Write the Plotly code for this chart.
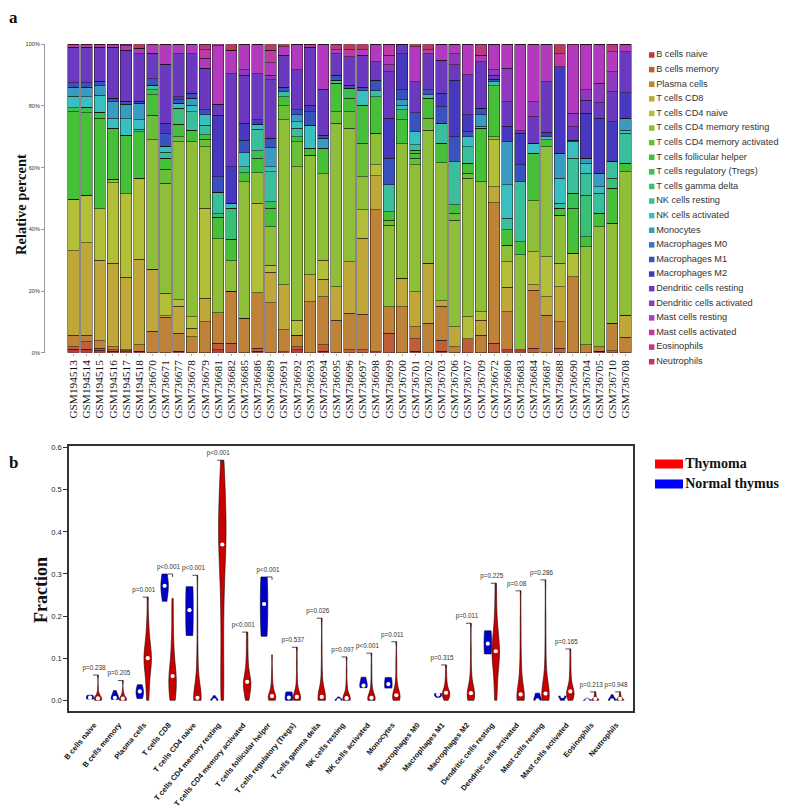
import colorsys
import numpy as np
import plotly.graph_objects as go

# ---------------- Panel a : CIBERSORT relative percent per sample ----------------
samples = ["GSM194513", "GSM194514", "GSM194515", "GSM194516", "GSM194517", "GSM194518",
           "GSM736670", "GSM736671", "GSM736677", "GSM736678", "GSM736679", "GSM736681",
           "GSM736682", "GSM736685", "GSM736686", "GSM736689", "GSM736691", "GSM736692",
           "GSM736693", "GSM736694", "GSM736695", "GSM736696", "GSM736697", "GSM736698",
           "GSM736699", "GSM736700", "GSM736701", "GSM736702", "GSM736703", "GSM736706",
           "GSM736707", "GSM736709", "GSM736672", "GSM736680", "GSM736683", "GSM736684",
           "GSM736687", "GSM736688", "GSM736690", "GSM736704", "GSM736705", "GSM736710",
           "GSM736708"]

cell_types = ["B cells naive", "B cells memory", "Plasma cells", "T cells CD8", "T cells CD4 naive",
              "T cells CD4 memory resting", "T cells CD4 memory activated", "T cells follicular helper",
              "T cells regulatory (Tregs)", "T cells gamma delta", "NK cells resting", "NK cells activated",
              "Monocytes", "Macrophages M0", "Macrophages M1", "Macrophages M2", "Dendritic cells resting",
              "Dendritic cells activated", "Mast cells resting", "Mast cells activated", "Eosinophils",
              "Neutrophils"]

# percent values per cell type, one entry per sample (same order as samples)
b_naive = [1.2, 1.2, 0.8, 0.5, 0.3, 0.3, 0, 0, 0.3, 0, 0, 1, 0, 0, 0.5, 0, 0.3, 0.9, 0, 0.5,
           0, 0, 0, 0.3, 0, 0, 0.5, 0, 0.5, 0, 0, 0, 0, 0.9, 0.9, 0, 0, 0, 0, 0, 0.5, 0, 0]
b_memory = [0.8, 2.3, 0.7, 0.5, 0.3, 0.2, 0, 0, 0.2, 0, 0, 2, 3, 0, 0.9, 0, 0, 1, 0, 2,
            0, 0.9, 0.9, 0, 6.3, 0, 4.1, 0, 3.6, 0, 4.6, 0, 3, 0, 0, 1.4, 0, 1.4, 0, 0, 0, 0.6, 0]
plasma = [3.7, 2.2, 2.3, 1, 0.4, 2, 7, 11.5, 5.8, 5.2, 10, 10, 17, 11.1, 18.1, 16.2, 7.1, 3.8, 16.5, 15.7,
          10.6, 11.9, 11.6, 46, 8.6, 14.9, 3.8, 9.5, 11, 1.9, 0, 5.7, 45.6, 12.4, 0, 18.9, 12.2, 8.6, 24.6, 2.5,
          1.4, 8.9, 5]
cd8 = [27.4, 30, 26.2, 27, 23.5, 27.8, 20, 0.5, 8.8, 2.7, 7.6, 0, 0, 0, 0, 9.9, 14.6, 0, 8.7, 5.6,
       10.8, 16.7, 24.6, 11, 0, 9.2, 11.4, 19.5, 1.8, 6.5, 0, 4.9, 5.2, 7.9, 0, 1.7, 6, 11.4, 0, 0, 0, 0, 7.2]
cd4_naive = [16.6, 15.4, 16.7, 26.1, 27, 26.2, 0, 7.3, 2, 3.8, 29.2, 0, 0, 0, 29, 2.3, 0, 4.9, 0, 6.2,
             0, 0, 9.2, 3.6, 0, 0, 0, 0, 0, 0, 7.1, 2.7, 15.2, 8.3, 0, 10.8, 12.9, 7.6, 7.6, 0, 0, 0, 0]
cd4_mem_rest = [0, 0, 0, 1.1, 0, 0, 42, 35.7, 51.3, 56.7, 20, 24, 9.8, 44.4, 9.9, 12.5, 53.5, 49.7, 38.9, 28,
                53, 43.3, 10.8, 10.2, 26.5, 43.6, 41.1, 43.2, 44.7, 34.6, 44.8, 42.2, 1, 5.4, 30.8, 16.4,
                35.7, 15.6, 0, 31.9, 39, 32.4, 46.5]
cd4_mem_act = [0, 0, 0, 0, 0, 0, 8, 4.5, 1.6, 0, 2.4, 0, 0, 0, 0, 0, 4.5, 8.1, 0, 0,
               3.8, 5.4, 10.8, 0, 1.6, 0, 2.1, 3.8, 0, 2.2, 1.7, 0, 0, 0, 0, 0, 0, 0, 0, 0, 0, 0, 0]
tfh = [28.5, 26.7, 29.3, 16.6, 19, 15.2, 6.6, 3.5, 4, 3.8, 1.4, 7, 7, 2.9, 4.6, 5.9, 3, 1.6, 2.2, 8.3,
       9.2, 4.3, 12.4, 11.9, 2.7, 7.8, 1.6, 6.5, 6.3, 2.7, 3.2, 17.3, 16.5, 4.9, 4.3, 15.4, 2.2, 2.2, 14.6, 3.2,
       4.3, 11.4, 2.7]
tregs = [1.3, 1.8, 2, 0, 0, 0, 1.6, 0, 0, 0, 0, 0, 0, 0, 2.5, 2.2, 0, 0, 0, 0,
         0, 3.2, 0, 0, 0, 3.2, 1.1, 0, 0, 0, 0, 0, 0, 0, 0, 0, 0, 0, 4.9, 0, 0, 0, 0]
gamma_delta = [0, 0, 0, 0, 0, 0, 0, 0, 5.2, 0, 0, 1, 10, 1.9, 0, 0, 0, 0, 0, 0,
               0, 0, 0, 0, 0, 0, 0, 0, 0, 0, 0, 0, 0, 0, 0, 0, 0, 0, 0, 13.5, 0, 3.2, 0]
nk_rest = [0, 0, 0, 0, 0, 0.8, 1.6, 2, 0, 6, 3.2, 7, 0, 0, 6.9, 9.7, 1.6, 2.8, 0, 0,
           1, 0, 0, 2, 8.7, 0, 1.7, 1.1, 6.5, 14, 5.4, 0, 1.4, 3.8, 19.5, 0, 0, 1.6, 11.3, 7.1, 6.5, 5.5, 9.7]
nk_act = [3.6, 3.4, 5.5, 3.2, 5.3, 3, 0, 2, 1.7, 2.1, 3.3, 0, 1.6, 4.5, 1.6, 1.6, 0, 2.1, 7.5, 0,
          0, 0, 4.7, 0, 0, 1.6, 4.3, 0, 0, 0, 3.2, 0.7, 0, 10.8, 0, 3.3, 1, 8.1, 5.4, 3.2, 2.1, 0, 1.1]
monocytes = [2.9, 3, 3, 5.3, 4.7, 5.4, 0, 0, 0, 2.2, 0, 0, 0, 0, 0, 6.2, 0, 2.2, 0, 3.2,
             0, 0, 0, 0, 0, 1.7, 0, 0, 0, 0, 0, 3.6, 0, 14, 0, 0, 0, 8.1, 0, 1.6, 4.4, 0, 3.8]
m0 = [0, 0, 0, 0, 0, 0, 0, 0, 0, 0, 0, 0, 0, 0, 0, 0, 0, 0, 0, 0,
      0, 0, 0, 0, 0, 0, 0, 0, 0, 0, 0, 0, 0, 0, 0, 0, 0, 0, 0, 0, 0, 0, 0]
m1 = [1.5, 1.6, 1.5, 1.2, 1, 0.7, 2, 4, 1.1, 1.6, 1.6, 5, 0, 4.1, 0, 3, 1.4, 1.6, 4.4, 1,
      1.6, 1.1, 1, 3.4, 8.6, 3.2, 6.1, 1.6, 5.4, 8.1, 1.7, 2.1, 0.7, 0, 5.4, 0, 0, 0, 0.5, 0, 0, 0, 0]
m2 = [0, 0, 0, 0, 0, 0, 0, 3.4, 1, 0, 0, 20, 11.9, 5.5, 1.5, 0, 0, 0, 2.1, 0,
      0, 0, 0, 0, 13, 11.8, 0, 0, 4.3, 18.4, 5.4, 0, 0, 5.1, 10.2, 0, 1.5, 28.2, 0, 14.6, 17.8, 12.9, 8.3]
dc_rest = [11.5, 11.4, 11, 16.5, 16.5, 15.4, 8.3, 19.1, 14, 12.9, 13.5, 3.5, 30.2, 15.6, 15, 19, 10.5, 13, 18.7, 15,
           7, 9.2, 10.5, 6, 15.1, 3, 10.1, 11.8, 10.8, 4.9, 13, 15.2, 1.4, 7.9, 0.9, 8.6, 16.4, 0, 4.4, 4.3,
           5.1, 9.7, 13.3]
dc_act = [0, 0, 0, 0, 0, 0, 0, 0, 0, 0, 0, 0, 0, 1.7, 0, 1.5, 0, 0, 0, 0,
          0, 0, 0, 0, 2.2, 0, 0, 0, 0, 3.7, 0, 0, 1.7, 10.8, 0, 4.9, 0, 0, 4.3, 3.3, 6.3, 6.5, 0]
mast_rest = [0, 0, 0, 0, 1.5, 1.7, 2.7, 6.5, 3, 3, 3.3, 19, 7.5, 8.3, 9.5, 4, 2.7, 8.3, 0, 14.5,
             1.2, 0, 1.7, 5.6, 3.2, 0, 11.3, 0, 5.1, 3, 9.9, 2.1, 8.3, 7.8, 28, 18.6, 12.1, 0, 22.2, 14.8,
             12.6, 6.5, 2.4]
mast_act = [1, 1, 1, 1, 0, 0, 0, 0, 0, 0, 2.7, 0, 0, 0, 0, 4, 0, 0, 1, 0,
            0, 2.2, 0, 0, 3.5, 0, 0, 1.2, 0, 0, 0, 0, 0, 0, 0, 0, 0, 4.2, 0, 0, 0, 0, 0]
eos = [0, 0, 0, 0, 0.5, 0, 0, 0, 0, 0, 1.8, 0, 0, 0, 0, 0, 0, 0, 0, 0,
       1.8, 0, 0, 0, 0, 0, 0, 0, 0, 0, 0, 3.5, 0, 0, 0, 0, 0, 0, 0, 0, 0, 2.4, 0]
neutro = [0, 0, 0, 0, 0, 1.3, 0.2, 0, 0, 0, 0, 0.5, 2, 0, 0, 2, 0.8, 0, 0, 0,
          0, 1.8, 1.8, 0, 0, 0, 0.8, 1.8, 0, 0, 0, 0, 0, 0, 0, 0, 0, 3, 0.2, 0, 0, 0, 0]

series = [b_naive, b_memory, plasma, cd8, cd4_naive, cd4_mem_rest, cd4_mem_act, tfh, tregs,
          gamma_delta, nk_rest, nk_act, monocytes, m0, m1, m2, dc_rest, dc_act, mast_rest,
          mast_act, eos, neutro]

n_normal = 6  # first six samples are normal thymus

# ---------------- Panel b : thymoma fractions per cell type (estimated from violins) ----------------
thy_b_naive = [0, 0, 0, 0, 0.001, 0.002, 0.003, 0.004, 0.005, 0.006, 0.008, 0.01, 0.012, 0.018, 0.03, 0.06]
thy_b_memory = [0, 0, 0, 0, 0.001, 0.002, 0.003, 0.004, 0.005, 0.007, 0.009, 0.012, 0.016, 0.024, 0.047]
thy_plasma = [0, 0.02, 0.04, 0.055, 0.07, 0.08, 0.088, 0.095, 0.1, 0.105, 0.112, 0.12, 0.13, 0.145, 0.165, 0.19, 0.245]
thy_cd8 = [0, 0, 0.005, 0.015, 0.025, 0.035, 0.045, 0.05, 0.055, 0.06, 0.07, 0.08, 0.095, 0.11, 0.13, 0.16, 0.2, 0.242]
thy_cd4_naive = [0, 0, 0, 0, 0, 0, 0, 0.002, 0.004, 0.008, 0.015, 0.025, 0.04, 0.06, 0.09, 0.13, 0.2, 0.297]
thy_cd4_mem_rest = [0, 0.03, 0.08, 0.14, 0.2, 0.25, 0.29, 0.32, 0.35, 0.37, 0.38, 0.4, 0.42, 0.44, 0.46, 0.48, 0.51, 0.54, 0.57]
thy_cd4_mem_act = [0, 0.005, 0.012, 0.02, 0.026, 0.032, 0.036, 0.04, 0.042, 0.046, 0.05, 0.056, 0.064, 0.075, 0.09, 0.11, 0.135, 0.162]
thy_tfh = [0, 0, 0, 0.002, 0.004, 0.006, 0.008, 0.009, 0.01, 0.012, 0.015, 0.02, 0.027, 0.037, 0.05, 0.07, 0.108]
thy_tregs = [0, 0, 0, 0, 0.002, 0.004, 0.005, 0.006, 0.008, 0.01, 0.013, 0.018, 0.026, 0.04, 0.06, 0.09, 0.126]
thy_gamma_delta = [0, 0, 0, 0, 0.001, 0.003, 0.005, 0.006, 0.008, 0.011, 0.015, 0.022, 0.035, 0.055, 0.085, 0.13, 0.195]
thy_nk_rest = [0, 0, 0, 0, 0, 0.002, 0.003, 0.004, 0.005, 0.007, 0.01, 0.014, 0.02, 0.03, 0.045, 0.07, 0.103]
thy_nk_act = [0, 0, 0, 0, 0, 0.002, 0.003, 0.004, 0.006, 0.008, 0.011, 0.016, 0.024, 0.036, 0.055, 0.08, 0.112]
thy_monocytes = [0, 0, 0, 0.002, 0.004, 0.006, 0.008, 0.01, 0.011, 0.013, 0.016, 0.02, 0.026, 0.035, 0.05, 0.075, 0.1, 0.139]
thy_m0 = [0, 0, 0, 0, 0, 0, 0, 0, 0, 0, 0, 0, 0, 0, 0, 0, 0]
thy_m1 = [0, 0.002, 0.005, 0.008, 0.011, 0.013, 0.015, 0.016, 0.018, 0.02, 0.023, 0.027, 0.032, 0.04, 0.05, 0.065, 0.084]
thy_m2 = [0, 0, 0.002, 0.005, 0.008, 0.011, 0.013, 0.015, 0.017, 0.02, 0.024, 0.03, 0.04, 0.055, 0.08, 0.12, 0.183]
thy_dc_rest = [0, 0.02, 0.045, 0.065, 0.08, 0.09, 0.1, 0.107, 0.113, 0.12, 0.128, 0.137, 0.148, 0.16, 0.175, 0.2, 0.235, 0.278]
thy_dc_act = [0, 0, 0, 0, 0, 0, 0.002, 0.005, 0.009, 0.014, 0.02, 0.028, 0.04, 0.055, 0.075, 0.1, 0.14, 0.19, 0.26]
thy_mast_rest = [0, 0, 0, 0.002, 0.005, 0.008, 0.01, 0.012, 0.014, 0.018, 0.024, 0.032, 0.045, 0.065, 0.095, 0.14, 0.2, 0.286]
thy_mast_act = [0, 0.003, 0.006, 0.009, 0.012, 0.015, 0.017, 0.019, 0.021, 0.024, 0.028, 0.034, 0.042, 0.055, 0.072, 0.095, 0.122]
thy_eos = [0, 0, 0, 0.001, 0.002, 0.003, 0.004, 0.006, 0.008, 0.011, 0.015, 0.02]
thy_neutro = [0, 0, 0, 0.001, 0.002, 0.003, 0.004, 0.005, 0.007, 0.01, 0.014, 0.02]

thymoma_series = [thy_b_naive, thy_b_memory, thy_plasma, thy_cd8, thy_cd4_naive, thy_cd4_mem_rest,
                  thy_cd4_mem_act, thy_tfh, thy_tregs, thy_gamma_delta, thy_nk_rest, thy_nk_act,
                  thy_monocytes, thy_m0, thy_m1, thy_m2, thy_dc_rest, thy_dc_act, thy_mast_rest,
                  thy_mast_act, thy_eos, thy_neutro]

p_values = ["p=0.238", "p=0.205", "p=0.001", "p<0.001", "p<0.001", "p<0.001", "p<0.001", "p<0.001",
            "p=0.537", "p=0.026", "p=0.097", "p<0.001", "p=0.011", "", "p=0.315", "p=0.011",
            "p=0.225", "p=0.08", "p=0.286", "p=0.165", "p=0.213", "p=0.948"]

group_names = ["Thymoma", "Normal thymus"]
group_colors = ["#FF0000", "#0000FF"]

# ---------------- figure ----------------
# the page body adds an 8 px margin, so the figure is 8 px smaller and all page positions shift by 8 px
PAGE_PAD = 8
W, H = 800 - PAGE_PAD, 810 - PAGE_PAD
def px_x(v):
    return (v - PAGE_PAD) / W
def px_y(v):
    return 1 - (v - PAGE_PAD) / H

palette = []
for k in range(len(cell_types)):
    r, g, b = colorsys.hsv_to_rgb(k / len(cell_types), 0.7, 0.75)
    palette.append("rgb(%d,%d,%d)" % (round(r * 255), round(g * 255), round(b * 255)))

fig = go.Figure()

totals = np.sum(np.array(series, dtype=float), axis=0)
xs = list(range(len(samples)))
for k, vals in enumerate(series):
    pct = (np.array(vals, dtype=float) / totals * 100).tolist()
    fig.add_trace(go.Bar(x=xs, y=pct, width=0.86, name=cell_types[k],
                         marker=dict(color=palette[k], line=dict(color="rgba(25,20,20,0.85)", width=0.6)),
                         xaxis="x", yaxis="y", showlegend=False))

# legend of panel a (drawn in its own axis)
fig.add_trace(go.Scatter(x=[0] * len(cell_types), y=list(range(len(cell_types))), mode="markers+text",
                         marker=dict(symbol="square", size=5.5, color=palette),
                         text=cell_types, textposition="middle right",
                         textfont=dict(family="Liberation Sans, Arial", size=9.2, color="#333"),
                         xaxis="x3", yaxis="y3", showlegend=False, cliponaxis=False, hoverinfo="skip"))

# violins of panel b
off = 0.16
bx, by = [], []
px_, py_, pt_ = [], [], []
med_x, med_y = [], []
for i, ct in enumerate(cell_types):
    normal_vals = (np.array(series[i][:n_normal], dtype=float) / 100).tolist()
    thy_vals = thymoma_series[i]
    groups = [(thy_vals, i + off, "#C80000", "#250000", 0.1),
              (normal_vals, i - off, "#0000C8", "#000030", 0.45)]
    for vals, pos, fill, edge, bwf in groups:
        v = np.array(vals, dtype=float)
        if v.max() <= 0:
            continue
        rng = v.max() - v.min()
        fig.add_trace(go.Violin(y=vals, x0=pos, width=0.3, scalemode="width", spanmode="hard",
                                bandwidth=max(rng * bwf, 0.0015), fillcolor=fill,
                                line=dict(color=edge, width=0.6), points=False,
                                box=dict(visible=False), meanline=dict(visible=False),
                                xaxis="x2", yaxis="y2", showlegend=False, hoverinfo="skip"))
        med_x.append(pos)
        med_y.append(float(np.median(v)))
    if p_values[i]:
        top = max(max(normal_vals), max(thy_vals))
        bx += [i - 0.04, i + off, i + off, None]
        by += [top, top, top - 0.007, None]
        px_.append(i)
        py_.append(top + 0.016)
        pt_.append(p_values[i])

fig.add_trace(go.Scatter(x=med_x, y=med_y, mode="markers",
                         marker=dict(color="white", size=4.2, line=dict(width=0)),
                         xaxis="x2", yaxis="y2", showlegend=False, hoverinfo="skip"))
fig.add_trace(go.Scatter(x=bx, y=by, mode="lines", line=dict(color="#222", width=0.8),
                         xaxis="x2", yaxis="y2", showlegend=False, hoverinfo="skip"))
fig.add_trace(go.Scatter(x=px_, y=py_, mode="text", text=pt_,
                         textfont=dict(family="Liberation Sans, Arial", size=6.3, color="#333"),
                         xaxis="x2", yaxis="y2", showlegend=False, cliponaxis=False, hoverinfo="skip"))

# legend of panel b
for g, (nm, col) in enumerate(zip(group_names, group_colors)):
    fig.add_trace(go.Scatter(x=[0, 1], y=[g, g], mode="lines", line=dict(color=col, width=9),
                             xaxis="x4", yaxis="y4", showlegend=False, hoverinfo="skip"))
fig.add_trace(go.Scatter(x=[1.08, 1.08], y=[0, 1], mode="text", text=["<b>%s</b>" % n for n in group_names],
                         textposition="middle right",
                         textfont=dict(family="Liberation Serif, Times New Roman", size=14, color="#111"),
                         xaxis="x4", yaxis="y4", showlegend=False, cliponaxis=False, hoverinfo="skip"))

fig.update_layout(
    width=W, height=H, margin=dict(l=0, r=0, t=0, b=0, autoexpand=False),
    paper_bgcolor="white", plot_bgcolor="white",
    barmode="stack", violinmode="overlay", showlegend=False,
    xaxis=dict(domain=[px_x(45), px_x(632)], range=[-2.169, 42.5], tickmode="array",
               tickvals=xs, ticktext=samples, tickangle=-90, automargin=False,
               tickfont=dict(family="Liberation Serif, Times New Roman", size=11.3, color="#111"),
               ticks="outside", ticklen=2, tickcolor="#aaa", showline=False, showgrid=False,
               zeroline=False, anchor="y"),
    yaxis=dict(domain=[px_y(352.7), px_y(44.3)], range=[0, 100], tickmode="array", automargin=False,
               tickvals=[0, 20, 40, 60, 80, 100], ticktext=["0%", "20%", "40%", "60%", "80%", "100%"],
               tickfont=dict(family="Liberation Sans, Arial", size=5.6, color="#333"),
               ticks="outside", ticklen=3, tickcolor="#999", showline=True, linecolor="#999",
               linewidth=1, showgrid=False, zeroline=False, anchor="x"),
    xaxis2=dict(domain=[px_x(69), px_x(633)], range=[-1.006, 21.68], tickmode="array", automargin=False,
                tickvals=list(range(len(cell_types))), ticktext=cell_types, tickangle=-50,
                tickfont=dict(family="Liberation Sans, Arial", size=7.5, color="#111", weight="bold"),
                ticks="outside", ticklen=5, tickcolor="rgba(0,0,0,0)", showline=True, mirror=True,
                linecolor="#333", linewidth=1.5, showgrid=False, zeroline=False, anchor="y2"),
    yaxis2=dict(domain=[px_y(711), px_y(446)], range=[-0.0254, 0.604], tickmode="array", automargin=False,
                tickvals=[0, 0.1, 0.2, 0.3, 0.4, 0.5, 0.6],
                ticktext=["0.0", "0.1", "0.2", "0.3", "0.4", "0.5", "0.6"],
                tickfont=dict(family="Liberation Sans, Arial", size=7.6, color="#222"),
                ticks="outside", ticklen=4, tickcolor="#333", showline=True, mirror=True,
                linecolor="#333", linewidth=1.5, showgrid=False, zeroline=False, anchor="x2"),
    xaxis3=dict(domain=[px_x(640), 1.0], range=[-1.17, 14.83], visible=False, anchor="y3", automargin=False),
    yaxis3=dict(domain=[px_y(369), px_y(47.7)], range=[21.5, -0.5], visible=False, anchor="x3", automargin=False),
    xaxis4=dict(domain=[px_x(655), 1.0], range=[0, 145 / 28], visible=False, anchor="y4", automargin=False),
    yaxis4=dict(domain=[px_y(494), px_y(454)], range=[1.5, -0.5], visible=False, anchor="x4", automargin=False),
    annotations=[
        dict(text="<b>a</b>", x=px_x(13), y=px_y(17), xref="paper", yref="paper", showarrow=False,
             xanchor="center", yanchor="middle",
             font=dict(family="Liberation Serif, Times New Roman", size=17, color="#111")),
        dict(text="<b>b</b>", x=px_x(13), y=px_y(462), xref="paper", yref="paper", showarrow=False,
             xanchor="center", yanchor="middle",
             font=dict(family="Liberation Serif, Times New Roman", size=17, color="#111")),
        dict(text="<b>Relative percent</b>", x=px_x(21), y=px_y(205), xref="paper", yref="paper",
             showarrow=False, textangle=-90, xanchor="center", yanchor="middle",
             font=dict(family="Liberation Serif, Times New Roman", size=14.5, color="#111")),
        dict(text="<b>Fraction</b>", x=px_x(41), y=px_y(590), xref="paper", yref="paper",
             showarrow=False, textangle=-90, xanchor="center", yanchor="middle",
             font=dict(family="Liberation Serif, Times New Roman", size=18, color="#111")),
    ],
)

fig.write_html("out.html")
